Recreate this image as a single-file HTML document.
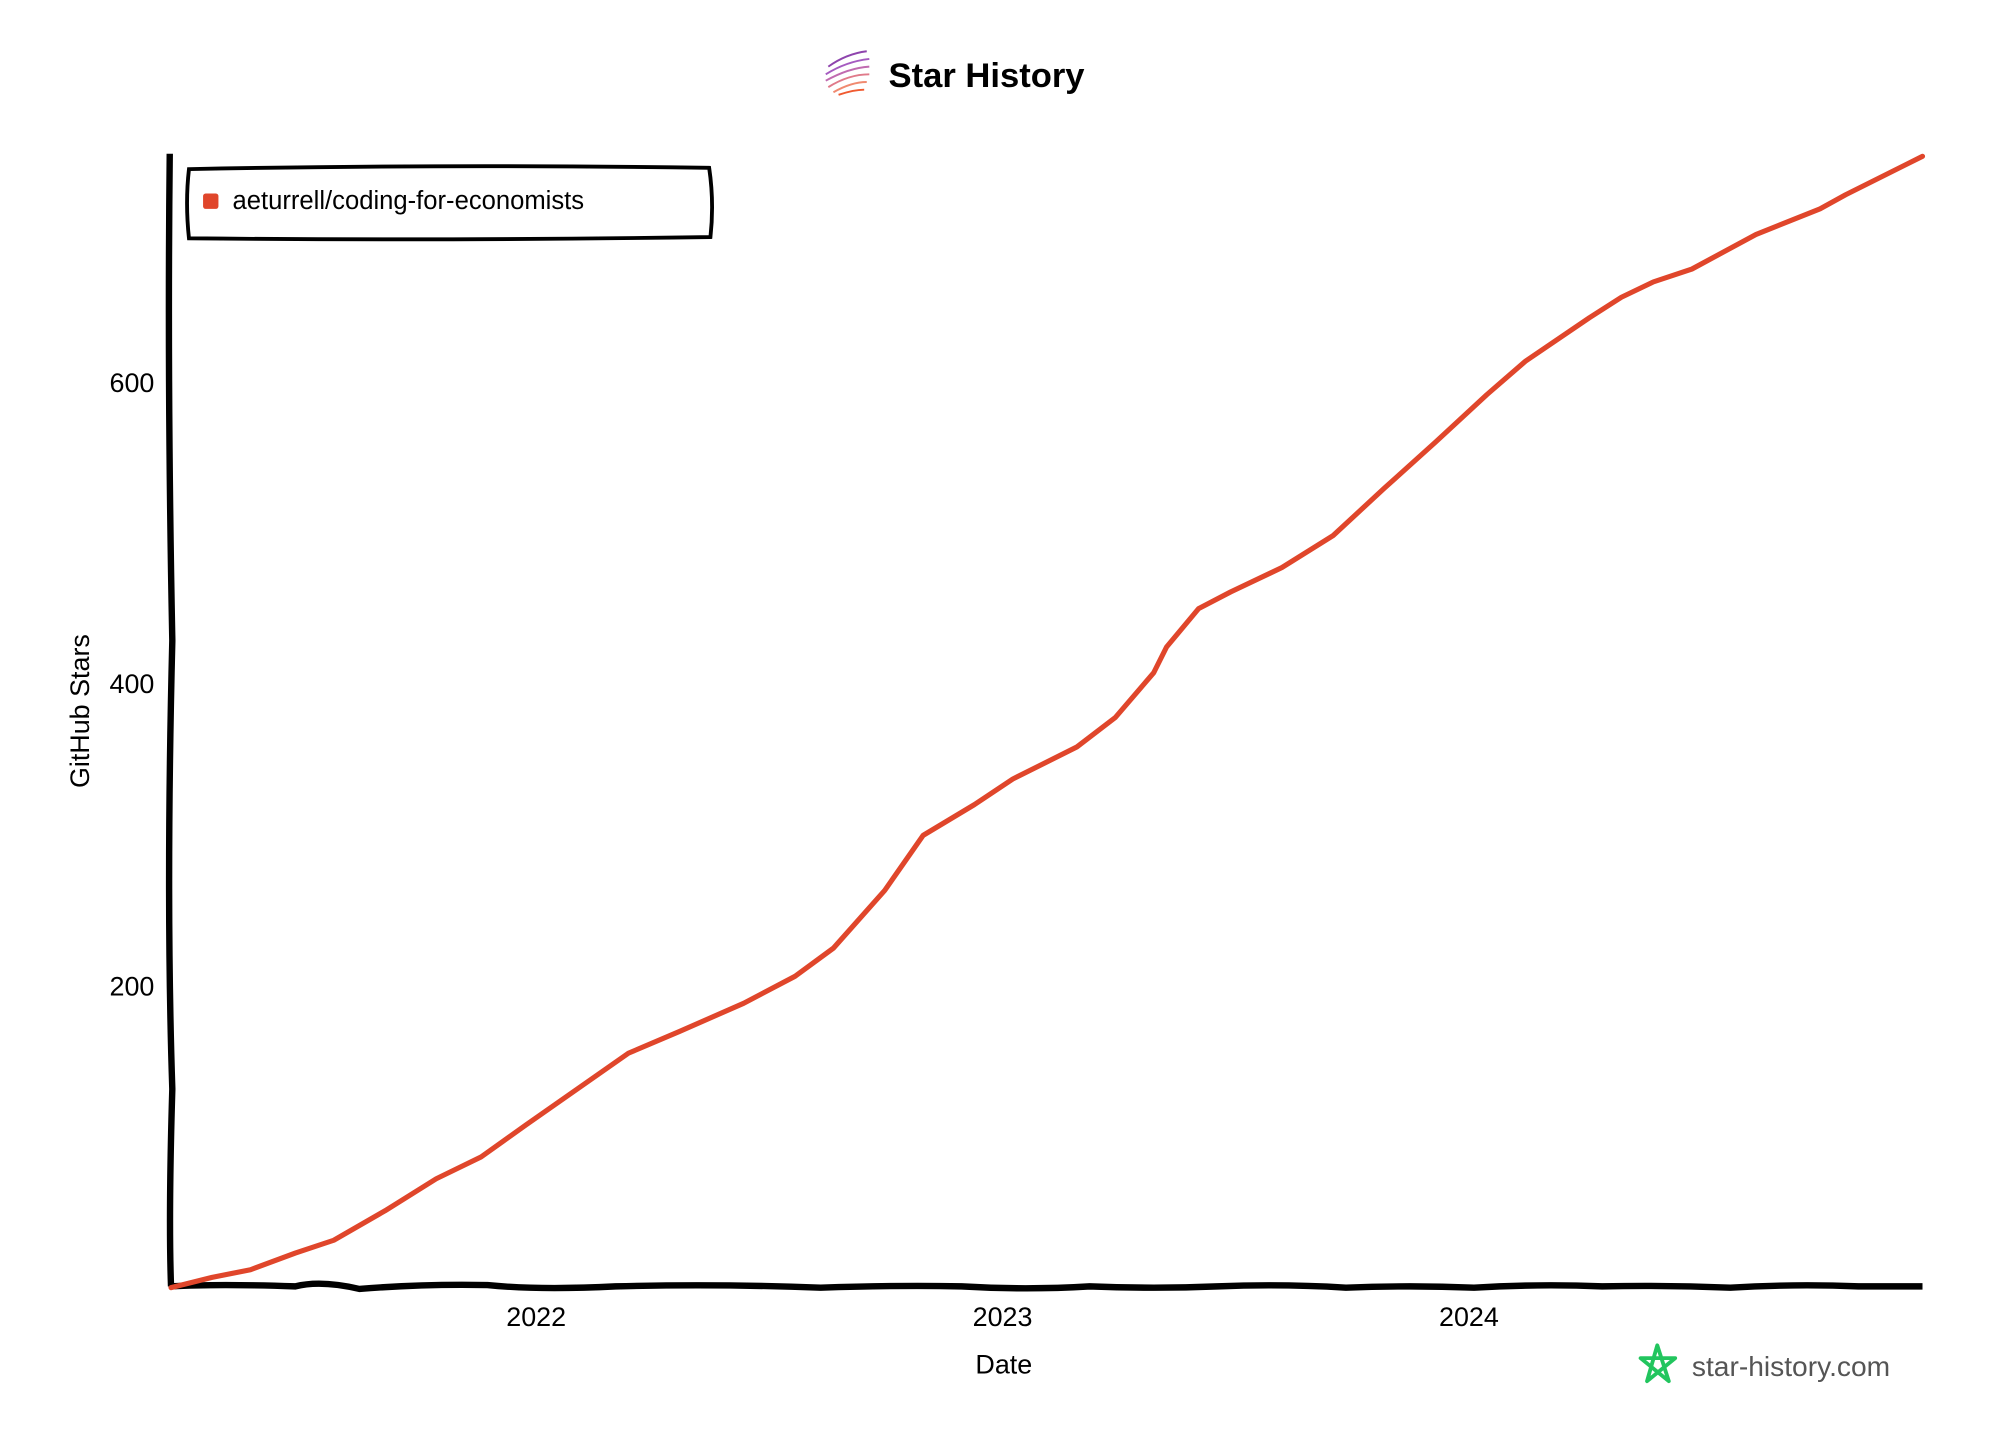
<!DOCTYPE html>
<html><head><meta charset="utf-8"><style>
html,body{margin:0;padding:0;background:#fff;}
svg{display:block;}
text{font-family:"Liberation Sans",sans-serif;fill:#000;}
</style></head><body>
<svg width="2000" height="1435" viewBox="0 0 1560 1120" xmlns="http://www.w3.org/2000/svg">
<rect width="1560" height="1120" fill="#fff"/>
<g stroke-width="1.5" fill="none">
<path d="M646 52 Q660 42 676 40" stroke="#8e44ad"/>
<path d="M644 58 Q660 48 678 46" stroke="#a55bc0"/>
<path d="M644 63 Q662 53 678 52" stroke="#c06bb0"/>
<path d="M646 68 Q662 58 678 58" stroke="#e07a8a"/>
<path d="M650 72 Q664 64 676 64" stroke="#f08a70"/>
<path d="M654 74 Q666 70 674 70" stroke="#f05a30"/>
</g>
<text x="693" y="68" font-size="27" font-weight="bold">Star History</text>
<path d="M132 120 Q130 300 134 500 Q129 700 134 850 Q131 950 133 1004" stroke="#000" stroke-width="5" fill="none"/>
<path d="M133 1004 Q170 1002 230 1004 Q250 999 280 1006 Q330 1002 380 1003 Q420 1007 480 1004 Q560 1002 640 1005 Q700 1003 750 1004 Q800 1007 850 1004 Q900 1006 950 1004 Q1000 1002 1050 1005 Q1100 1003 1150 1005 Q1200 1002 1250 1004 Q1300 1003 1350 1005 Q1400 1002 1450 1004 L1500 1004" stroke="#000" stroke-width="5" fill="none"/>
<g font-size="21" text-anchor="end">
<text x="120" y="306">600</text>
<text x="120" y="541">400</text>
<text x="120" y="777">200</text>
</g>
<g font-size="21" text-anchor="middle">
<text x="418" y="1035">2022</text>
<text x="782" y="1035">2023</text>
<text x="1146" y="1035">2024</text>
<text x="783" y="1072">Date</text>
</g>
<text x="0" y="0" font-size="21" text-anchor="middle" transform="translate(69 555) rotate(-90)">GitHub Stars</text>
<path d="M133 1005 L165 997 L195 991 L230 978 L260 968 L300 945 L340 920 L375 903 L410 878 L450 850 L490 822 L530 805 L580 783 L620 762 L650 740 L690 695 L720 652 L760 628 L790 608 L840 583 L870 560 L900 525 L910 505 L935 475 L960 462 L1000 443 L1040 418 L1080 381 L1120 345 L1160 308 L1190 282 L1240 248 L1265 232 L1290 220 L1320 210 L1370 183 L1420 163 L1440 152 L1500 122" stroke="#e0462b" stroke-width="4" fill="none" stroke-linejoin="round" stroke-linecap="round"/>
<path d="M147 132 Q350 128 553 131 Q557 158 554 185 Q350 188 147 186 Q144 158 147 132 Z" stroke="#000" stroke-width="3" fill="#fff"/>
<rect x="158" y="151" width="12" height="12" rx="2" fill="#e0462b"/>
<text x="181" y="163" font-size="20">aeturrell/coding-for-economists</text>
<path d="M1293 1050 L1302 1078 L1280 1060 L1307 1060 L1285 1078 Z" stroke="#22c55e" stroke-width="3" fill="none" stroke-linejoin="round"/>
<text x="1320" y="1074" font-size="22" style="fill:#555">star-history.com</text>
</svg>
</body></html>
